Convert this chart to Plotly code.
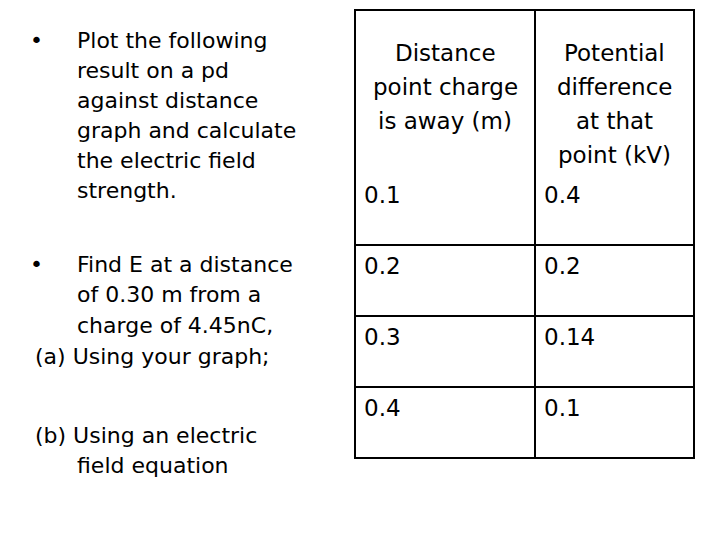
import plotly.graph_objects as go

distances = ["0.1", "0.2", "0.3", "0.4"]
potentials = ["0.4", "0.2", "0.14", "0.1"]
header_dist = ["Distance", "point charge", "is away (m)"]
header_pot = ["Potential", "difference", "at that", "point (kV)"]
bullet1 = ["Plot the following", "result on a pd", "against distance",
           "graph and calculate", "the electric field", "strength."]
bullet2 = ["Find E at a distance", "of 0.30 m from a", "charge of 4.45nC,"]

F = "DejaVu Sans"
fig = go.Figure()
ann = []
def t(x, y, s, xa="left", size=22):
    ann.append(dict(x=x, y=y, text=s, showarrow=False, xanchor=xa, yanchor="middle",
                    font=dict(family=F, size=size, color="black")))

t(28, 40, "•")
for i, s in enumerate(bullet1):
    t(75, 40 + i * 30, s)
t(28, 264, "•")
for i, s in enumerate(bullet2):
    t(75, 264 + i * 30.5, s)
t(33, 356, "(a) Using your graph;")
t(33, 435, "(b) Using an electric")
t(75, 465, "field equation")

for i, s in enumerate(header_dist):
    t(445, 53 + i * 34, s, "center", 23)
for i, s in enumerate(header_pot):
    t(614, 53 + i * 34, s, "center", 23)
rows_y = [195, 266, 337, 408]
for d, p, y in zip(distances, potentials, rows_y):
    t(362, y, d, size=23)
    t(542, y, p, size=23)

shapes = [dict(type="rect", x0=355, x1=694, y0=10, y1=458, line=dict(color="black", width=2)),
          dict(type="line", x0=535, x1=535, y0=10, y1=458, line=dict(color="black", width=2))]
for y in [245, 316, 387]:
    shapes.append(dict(type="line", x0=355, x1=694, y0=y, y1=y, line=dict(color="black", width=2)))

fig.update_layout(width=720, height=540, margin=dict(l=0, r=0, t=0, b=0),
                  paper_bgcolor="white", plot_bgcolor="white",
                  xaxis=dict(range=[8, 728], visible=False),
                  yaxis=dict(range=[548, 8], visible=False),
                  annotations=ann, shapes=shapes, showlegend=False)
fig.write_html("out.html")
